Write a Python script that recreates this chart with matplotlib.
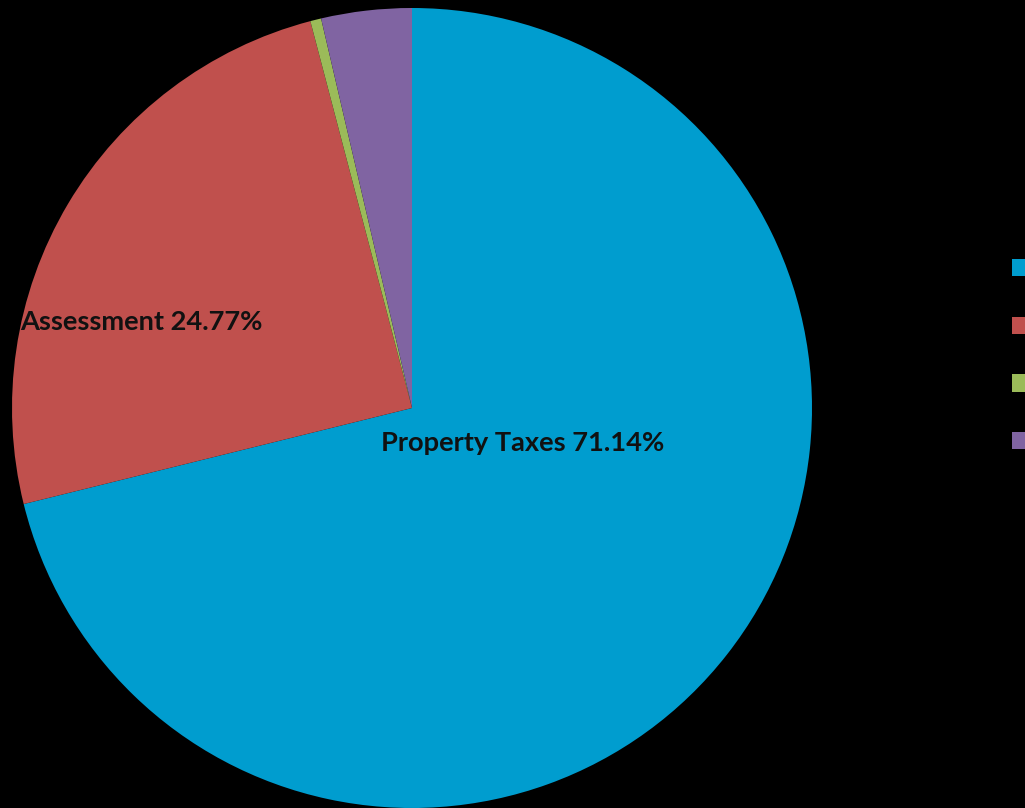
import matplotlib.pyplot as plt

labels = ["Property Taxes", "Assessment", "Grants", "Other"]
values = [71.14, 24.77, 0.44, 3.65]
colors = ["#009DCF", "#C0504D", "#9BBB59", "#8064A2"]
label_pos = {"Property Taxes": (0.2775, -0.0875), "Assessment": (-0.677, 0.215)}

fig = plt.figure(figsize=(10.25, 8.08), dpi=100, facecolor="black")
ax = fig.add_axes([12 / 1025, 0, 800 / 1025, 800 / 808])
ax.set_facecolor("black")

wedges, _ = ax.pie(values, colors=colors, startangle=90, counterclock=False,
                   radius=1, wedgeprops={"linewidth": 0})
ax.set_xlim(-1, 1)
ax.set_ylim(-1, 1)
ax.set_aspect("equal")
ax.axis("off")

for name, val in zip(labels, values):
    if name in label_pos:
        x, y = label_pos[name]
        ax.text(x, y, f"{name} {val:.2f}%", ha="center", va="center",
                fontsize=19.6, fontweight="bold", family="Lato", color="#111111")

leg = fig.legend(wedges, labels, loc="upper left", bbox_to_anchor=(1012 / 1025, 1 - 259 / 808),
                 frameon=False, labelcolor="black", fontsize=14, handlelength=0.75,
                 handleheight=1.0, handletextpad=0.5, labelspacing=1.97,
                 borderaxespad=0, borderpad=0)

fig.savefig("out.png", dpi=100, facecolor="black")
